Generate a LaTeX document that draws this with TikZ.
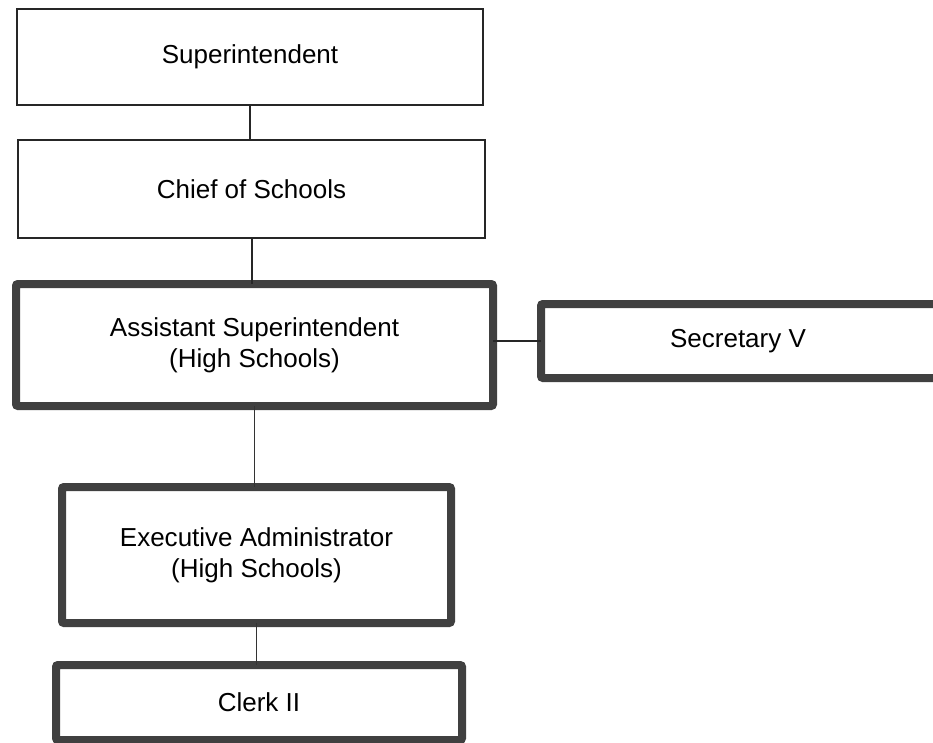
\documentclass[tikz,border=0pt]{standalone}
\usepackage{fontspec}
\setmainfont{Liberation Sans}
\usetikzlibrary{positioning}

\begin{document}
\begin{tikzpicture}[x=1pt, y=-1pt,
thinbox/.style={rectangle, draw=black!85, line width=2.5pt, fill=white, inner sep=0pt, outer sep=0pt, align=center, font=\fontsize{26}{31}\selectfont},
thickbox/.style={rectangle, draw=black!75, line width=8pt, rounded corners=2pt, fill=white, inner sep=0pt, outer sep=0pt, align=center, font=\fontsize{26}{31}\selectfont},
link/.style={draw=black!85, line width=2pt},
thinlink/.style={draw=black!80, line width=1pt},
]
\useasboundingbox[fill=white] (0,0) rectangle (933,743);
\clip (0,0) rectangle (933,743);

%Nodes
\node[thinbox, minimum width=466pt, minimum height=96pt]   (Super)    at (250,57)                          {Superintendent};
\node[thinbox, minimum width=467pt, minimum height=98pt]   (Chief)    [below=35pt of Super, xshift=1.5pt]  {Chief of Schools};
\node[thickbox, minimum width=477pt, minimum height=122pt] (Assist)   [below=46pt of Chief, xshift=3pt]    {Assistant Superintendent\\(High Schools)};
\node[thickbox, minimum width=404pt, minimum height=74pt]  (Secr)     [right=48pt of Assist, yshift=4pt]   {\hspace*{-10pt}Secretary V};
\node[thickbox, minimum width=389pt, minimum height=136pt] (ExecAdm)  [below=81pt of Assist, xshift=2pt]   {Executive Administrator\\(High Schools)};
\node[thickbox, minimum width=406pt, minimum height=75pt]  (Clerk)    [below=42pt of ExecAdm, xshift=2.5pt] {Clerk II};

%Lines
\draw[link] (Super.south) -- (Super.south |- Chief.north);
\draw[link] (Chief.south) -- (Chief.south |- Assist.north);
\draw[link] (Assist.east |- Secr.west) -- (Secr.west);
\draw[thinlink] (Assist.south) -- (Assist.south |- ExecAdm.north);
\draw[thinlink] (ExecAdm.south) -- (ExecAdm.south |- Clerk.north);
\end{tikzpicture}
\end{document}
